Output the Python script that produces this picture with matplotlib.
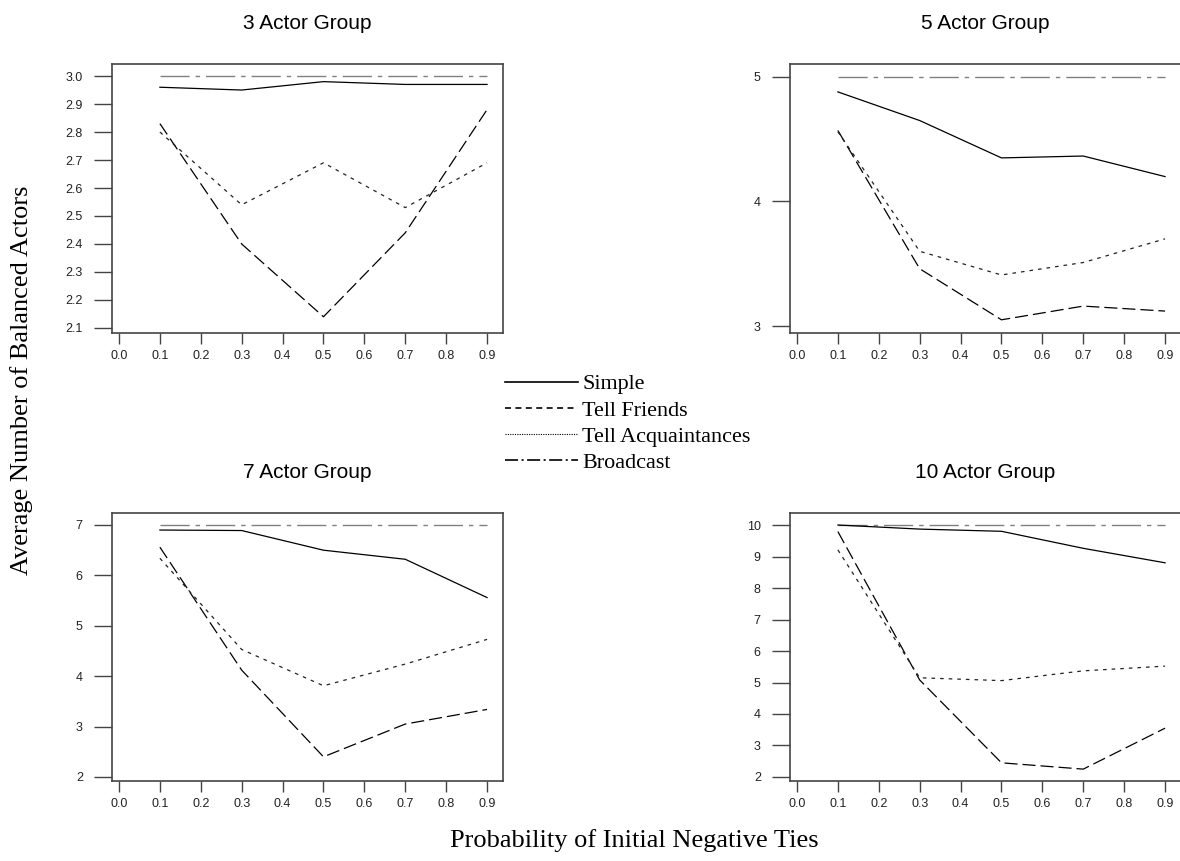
import matplotlib
matplotlib.use("Agg")
import matplotlib.pyplot as plt
from matplotlib.lines import Line2D

plt.rcParams['lines.scale_dashes'] = False

# probability of initial negative ties
probs = [0.1, 0.3, 0.5, 0.7, 0.9]
xticks = [0.0, 0.1, 0.2, 0.3, 0.4, 0.5, 0.6, 0.7, 0.8, 0.9]

titles = ["3 Actor Group", "5 Actor Group", "7 Actor Group", "10 Actor Group"]

# values
simple = [
    [2.96, 2.95, 2.98, 2.97, 2.97],
    [4.88, 4.65, 4.35, 4.365, 4.20],
    [6.90, 6.89, 6.50, 6.32, 5.56],
    [10.0, 9.87, 9.80, 9.26, 8.80],
]
tell_friends = [
    [2.83, 2.40, 2.14, 2.44, 2.88],
    [4.57, 3.46, 3.05, 3.16, 3.12],
    [6.56, 4.12, 2.40, 3.05, 3.34],
    [9.79, 5.08, 2.45, 2.25, 3.55],
]
tell_acq = [
    [2.80, 2.54, 2.69, 2.53, 2.69],
    [4.56, 3.60, 3.41, 3.51, 3.70],
    [6.34, 4.53, 3.81, 4.24, 4.73],
    [9.21, 5.15, 5.06, 5.37, 5.52],
]
broadcast = [
    [3.0, 3.0, 3.0, 3.0, 3.0],
    [5.0, 5.0, 5.0, 5.0, 5.0],
    [7.0, 7.0, 7.0, 7.0, 7.0],
    [10.0, 10.0, 10.0, 10.0, 10.0],
]

yticks = [
    [2.1, 2.2, 2.3, 2.4, 2.5, 2.6, 2.7, 2.8, 2.9, 3.0],
    [3, 4, 5],
    [2, 3, 4, 5, 6, 7],
    [2, 3, 4, 5, 6, 7, 8, 9, 10],
]
ylims = [(2.082, 3.043), (2.944, 5.104), (1.92, 7.238), (1.873, 10.381)]
yfmt = ["%.1f", "%d", "%d", "%d"]

W, H = 1180, 861
fig = plt.figure(figsize=(W / 100, H / 100), dpi=100)

# axes boxes in pixels: left, top, right, bottom
boxes = [(112, 64, 503, 333), (790, 64, 1181, 333),
         (112, 513, 503, 781), (790, 513, 1181, 781)]

sty_f = (0, (9.4, 3.6))
sty_a = (0, (2.6, 3.6))
sty_b = (0, (21, 4.3, 3.2, 4.3))
spine_col = '#444444'

for i in range(4):
    l, t, r, b = boxes[i]
    ax = fig.add_axes([l / W, 1 - b / H, (r - l) / W, (b - t) / H])
    ax.plot(probs, broadcast[i], color='#808080', lw=1.0, linestyle=sty_b)
    ax.plot(probs, simple[i], color='black', lw=0.9, linestyle='-')
    ax.plot(probs, tell_friends[i], color='black', lw=0.9, linestyle=sty_f)
    ax.plot(probs, tell_acq[i], color='#222222', lw=0.9, linestyle=sty_a)
    ax.set_xlim(-0.0171, 0.939)
    ax.set_ylim(*ylims[i])
    ax.set_xticks(xticks)
    ax.set_xticklabels(["%.1f" % v for v in xticks], family='Liberation Sans')
    ax.set_yticks(yticks[i])
    ax.set_yticklabels([yfmt[i] % v for v in yticks[i]], family='Liberation Sans')
    ax.tick_params(axis='x', length=8, width=1.0, color=spine_col, pad=4,
                   labelsize=9, labelcolor='#222222')
    ax.tick_params(axis='y', length=13, width=1.0, color=spine_col, pad=8,
                   labelsize=9, labelcolor='#222222')
    for s in ax.spines.values():
        s.set_color(spine_col)
        s.set_linewidth(1.2)
    ax.set_title(titles[i], fontsize=15, family='Liberation Sans', pad=25)

handles = [
    Line2D([], [], color='black', lw=1.2, linestyle='-'),
    Line2D([], [], color='black', lw=1.2, linestyle=(0, (4.3, 3.2))),
    Line2D([], [], color='black', lw=0.8, linestyle=(0, (0.8, 0.9))),
    Line2D([], [], color='black', lw=1.2, linestyle=(0, (9.4, 2.5, 1.5, 2.5))),
]
labels = ["Simple", "Tell Friends", "Tell Acquaintances", "Broadcast"]
fig.legend(handles, labels, loc='upper left', bbox_to_anchor=(505 / W, 1 - 374 / H),
           frameon=False, borderpad=0, borderaxespad=0, handlelength=3.3,
           handletextpad=0.2, labelspacing=0.26,
           prop={'family': 'Liberation Serif', 'size': 15.9})

fig.text(634 / W, 1 - 841 / H, "Probability of Initial Negative Ties",
         ha='center', va='center', family='Liberation Serif', fontsize=19)
fig.text(22 / W, 1 - 380 / H, "Average Number of Balanced Actors",
         ha='center', va='center', rotation=90, family='Liberation Serif', fontsize=19)

fig.savefig("out.png", dpi=100)
